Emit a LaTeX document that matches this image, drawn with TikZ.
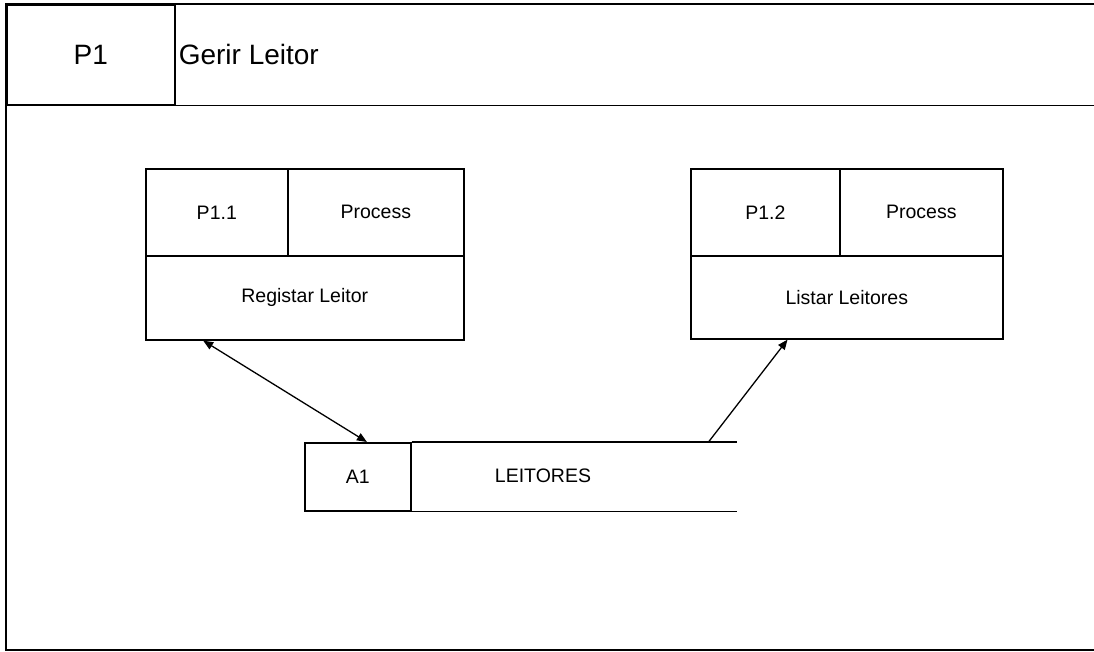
\documentclass[tikz,border=0pt]{standalone}
\usepackage{fontspec}
\setmainfont{Liberation Sans}
\usetikzlibrary{calc,arrows.meta}
\begin{document}
\begin{tikzpicture}[x=1pt,y=-1pt,
  line width=1.6pt,
  cell/.style={draw, rectangle, inner sep=0pt, anchor=north west,
    font=\fontsize{19.5}{22}\selectfont},
  blank/.style={cell, draw=none},
  label/.style={inner sep=0pt, font=\fontsize{19.5}{22}\selectfont},
  tip/.tip={Triangle[length=10pt,width=8pt]},
  flow/.style={line width=1.3pt}]
\useasboundingbox[fill=white] (0,0) rectangle (1094,652);

% header strip of the process frame
\node[cell, minimum width=168pt, minimum height=100pt,
      font=\fontsize{28}{30}\selectfont] (pid) at (6,4) {P1};
\node[blank, minimum width=920pt, minimum height=100pt] (pname) at (174,4) {};
\node[label, anchor=west, font=\fontsize{28}{30}\selectfont]
  (pnametext) at ($(pname.west)+(4,0)$) {Gerir Leitor};
\coordinate (fbl) at (6,650);
\coordinate (fbr) at (1094,650);
\draw (pname.north east) -- (pid.north west) -- (fbl) -- (fbr);
\draw (pid.south west) -- (pname.south east);

% process P1.1
\node[cell, minimum width=142pt, minimum height=87pt] (p11) at (145,168) {P1.1};
\node[cell, minimum width=176pt, minimum height=87pt] (proc1) at (287,168) {Process};
\node[cell, minimum width=318pt, minimum height=84pt] (reg) at (145,255) {Registar Leitor};

% process P1.2
\node[cell, minimum width=149pt, minimum height=87pt] (p12) at (690,168) {P1.2};
\node[cell, minimum width=163pt, minimum height=87pt] (proc2) at (839,168) {Process};
\node[cell, minimum width=312pt, minimum height=83pt] (list) at (690,255) {Listar Leitores};

% data store A1 (open on the right)
\node[cell, minimum width=106pt, minimum height=68pt] (a1) at (304,442) {A1};
\node[blank, minimum width=325pt, minimum height=68pt] (leit) at (410,442) {};
\node[label] (leittext) at (543,476) {LEITORES};
\draw (a1.north east) -- (leit.north east);
\draw (a1.south east) -- (leit.south east);

% data flows
\draw[flow, tip-tip] ($(reg.south west)!0.182!(reg.south east)$)
  -- ($(a1.north west)!0.585!(a1.north east)$);
\draw[flow, -tip] ($(leit.north west)!0.914!(leit.north east)$)
  -- ($(list.south west)!0.311!(list.south east)$);
\end{tikzpicture}
\end{document}
